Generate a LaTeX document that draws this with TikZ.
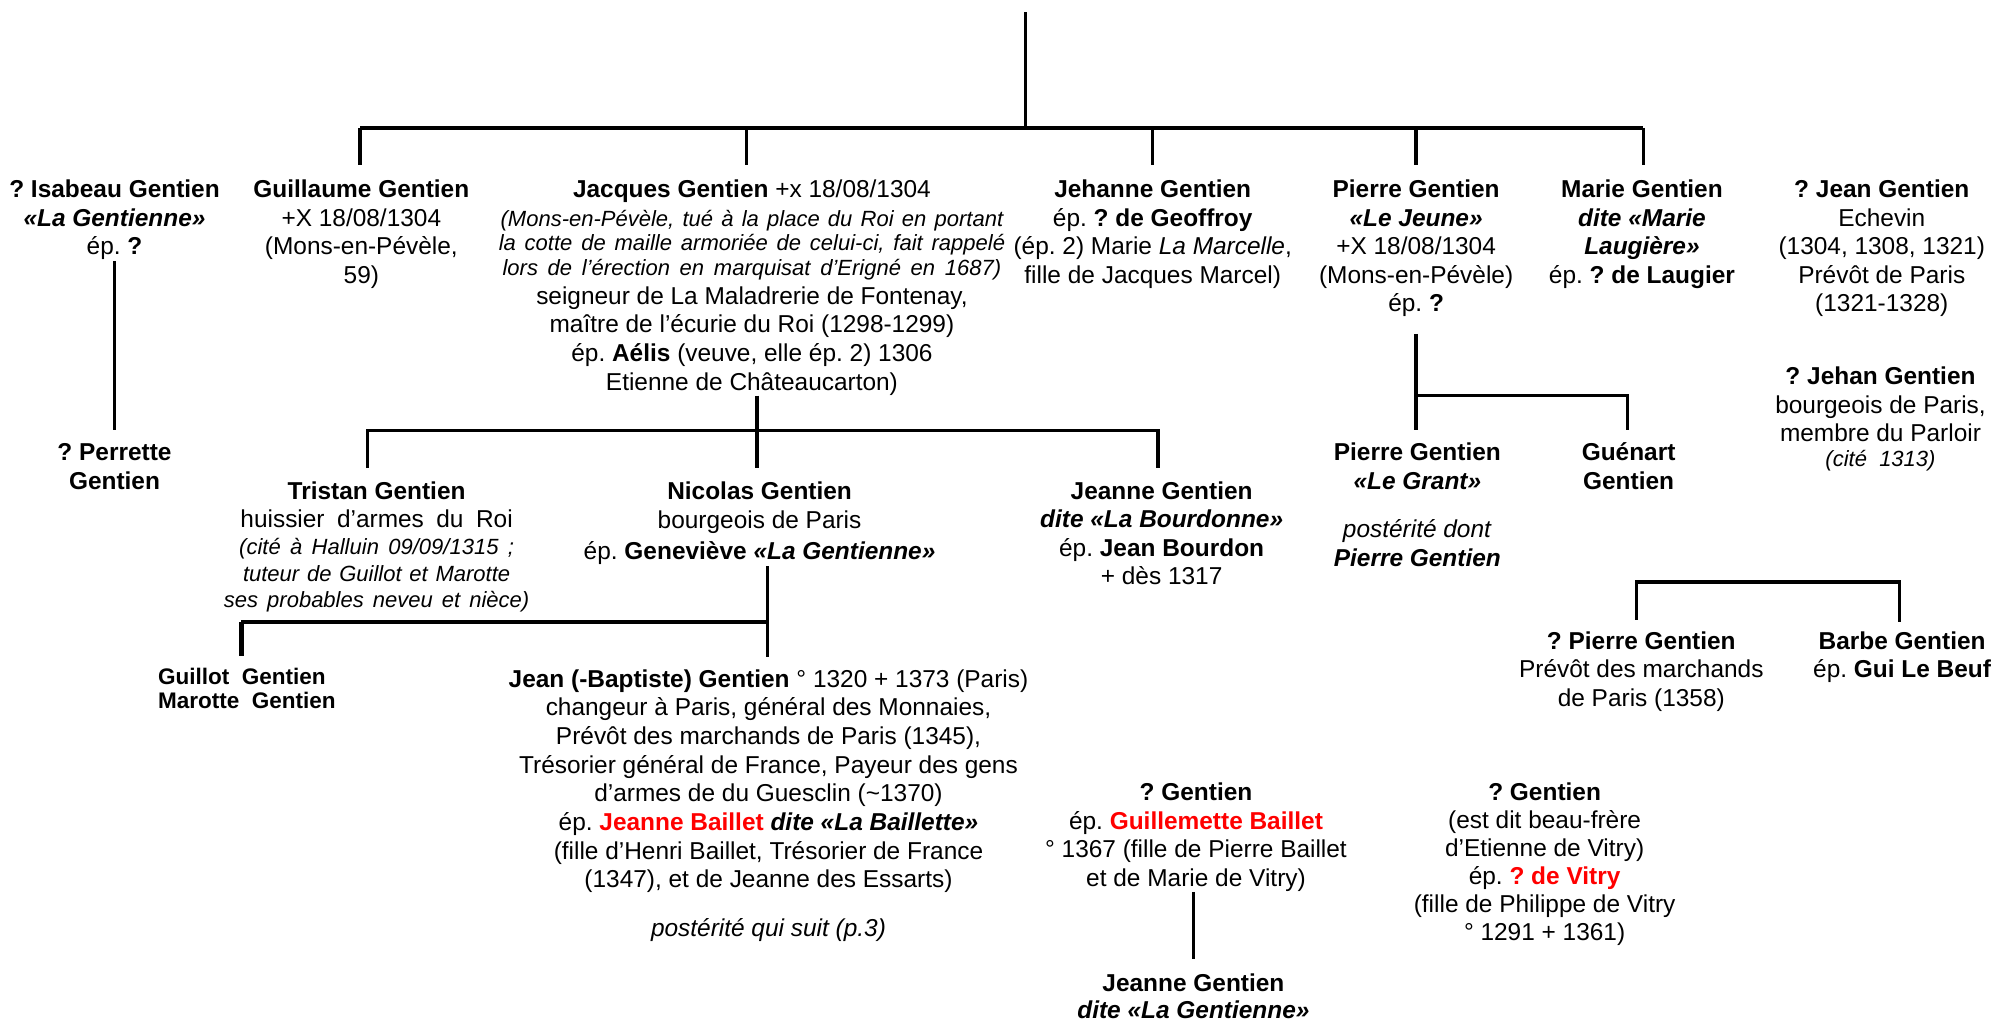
\documentclass[tikz,border=0pt]{standalone}
\usepackage{fontspec}
\setmainfont{Liberation Sans}
\definecolor{bred}{RGB}{255,0,0}
\newcommand\fsz{\fontsize{19.2}{22.5}\selectfont}
\newcommand\smit{\fontsize{17.3}{19.5}\selectfont\itshape}
\newcommand\gsz{\fontsize{17.7}{18.5}\selectfont}
\newcommand\tstrut{\rule{0pt}{16pt}}
\newcommand\bi[1]{\textbf{\textit{#1}}}
\newcommand\redb[1]{\textcolor{bred}{\textbf{#1}}}
\begin{document}
\frenchspacing
\begin{tikzpicture}[x=1pt,y=-1pt,
  person/.style={anchor=north,inner sep=0pt,align=center,font=\fsz},
  ln/.style={line width=2.7pt},
  lnthick/.style={line width=3.9pt}]
\fill[white] (0,0) rectangle (1568,802);
\path[use as bounding box] (0,0) rectangle (1568,802);

% ---------- generation 1 ----------
\node[person] (isa) at (90,139) {\tstrut\textbf{? Isabeau Gentien}\\\bi{«La Gentienne»}\\ép. \textbf{?}};
\node[person] (guill) at (284,139) {\tstrut\textbf{Guillaume Gentien}\\+X 18/08/1304\\(Mons-en-Pévèle,\\59)};
\node[person] (jacq) at (591,139) {\tstrut\textbf{Jacques Gentien} +x 18/08/1304\\
  {\smit\makebox[395pt][s]{(Mons-en-Pévèle, tué à la place du Roi en portant}}\\[-3pt]
  {\smit\makebox[398pt][s]{la cotte de maille armoriée de celui-ci, fait rappelé}}\\[-3pt]
  {\smit\makebox[392pt][s]{lors de l’érection en marquisat d’Erigné en 1687)}}\\
  seigneur de La Maladrerie de Fontenay,\\
  maître de l’écurie du Roi (1298-1299)\\
  ép. \textbf{Aélis} (veuve, elle ép. 2) 1306\\
  Etienne de Châteaucarton)};
\node[person] (jeh) at (906,139) {\tstrut\textbf{Jehanne Gentien}\\ép. \textbf{? de Geoffroy}\\(ép. 2) Marie \textit{La Marcelle},\\fille de Jacques Marcel)};
\node[person] (pjeune) at (1113,139) {\tstrut\textbf{Pierre Gentien}\\\bi{«Le Jeune»}\\+X 18/08/1304\\(Mons-en-Pévèle)\\ép. \textbf{?}};
\node[person] (marie) at (1290.5,139) {\tstrut\textbf{Marie Gentien}\\\bi{dite «Marie}\\\bi{Laugière»}\\ép. \textbf{? de Laugier}};
\node[person] (jean) at (1479,139) {\tstrut\textbf{? Jean Gentien}\\Echevin\\(1304, 1308, 1321)\\Prévôt de Paris\\(1321-1328)};
\node[person] (jehan) at (1478,286) {\tstrut\textbf{? Jehan Gentien}\\bourgeois de Paris,\\membre du Parloir\\[-3pt]{\smit (cité\ \ 1313)}};

% ---------- generation 2 ----------
\node[person] (perr) at (90,346) {\tstrut\textbf{? Perrette}\\\textbf{Gentien}};
\node[person] (trist) at (296,376) {\tstrut\textbf{Tristan Gentien}\\
  \makebox[214pt][s]{huissier d’armes du Roi}\\[-1pt]
  {\smit\makebox[216pt][s]{(cité à Halluin 09/09/1315 ;}}\\[-2pt]
  {\smit\makebox[210pt][s]{tuteur de Guillot et Marotte}}\\[-2pt]
  {\smit\makebox[240pt][s]{ses probables neveu et nièce)}}};
\node[person] (nico) at (597,376) {\tstrut\textbf{Nicolas Gentien}\\[1pt]bourgeois de Paris\\[1.5pt]ép. \textbf{Geneviève \textit{«La Gentienne»}}};
\node[person] (jbour) at (913,376) {\tstrut\textbf{Jeanne Gentien}\\\bi{dite «La Bourdonne»}\\ép. \textbf{Jean Bourdon}\\+ dès 1317};
\node[person] (pgrant) at (1114,346) {\tstrut\textbf{Pierre Gentien}\\\bi{«Le Grant»}\\[15.5pt]\textit{postérité dont}\\\bi{Pierre Gentien}};
\node[person] (guen) at (1280,346) {\tstrut\textbf{Guénart}\\\textbf{Gentien}};

% ---------- generation 3 ----------
\node[anchor=north west,inner sep=0pt,align=left,font=\gsz] (guil) at (124,522) {\tstrut\textbf{Guillot\ \ Gentien}\\\textbf{Marotte\ \ Gentien}};
\node[person] (jb) at (604,524) {\tstrut\textbf{Jean (-Baptiste) Gentien} ° 1320 + 1373 (Paris)\\
  changeur à Paris, général des Monnaies,\\
  Prévôt des marchands de Paris (1345),\\
  Trésorier général de France, Payeur des gens\\
  d’armes de du Guesclin (\textasciitilde1370)\\
  ép. \redb{Jeanne Baillet} \bi{dite «La Baillette»}\\
  (fille d’Henri Baillet, Trésorier de France\\
  (1347), et de Jeanne des Essarts)\\[16pt]
  \textit{postérité qui suit (p.3)}};
\node[person] (ppre) at (1290,494) {\tstrut\textbf{? Pierre Gentien}\\Prévôt des marchands\\de Paris (1358)};
\node[person] (barbe) at (1495,494) {\tstrut\textbf{Barbe Gentien}\\ép. \textbf{Gui Le Beuf}};
\node[person] (gmid) at (940,613) {\tstrut\textbf{? Gentien}\\ép. \redb{Guillemette Baillet}\\° 1367 (fille de Pierre Baillet\\et de Marie de Vitry)};
\node[person] (jgen) at (938,763) {\tstrut\textbf{Jeanne Gentien}\\[-1.5pt]\bi{dite «La Gentienne»}};
\node[person] (gvit) at (1214,613) {\tstrut\textbf{? Gentien}\\[-0.5pt](est dit beau-frère\\[-0.5pt]d’Etienne de Vitry)\\[-0.5pt]ép. \redb{? de Vitry}\\[-0.5pt](fille de Philippe de Vitry\\[-0.5pt]° 1291 + 1361)};

% ---------- connectors ----------
\coordinate (root) at (806,9.5);
\coordinate (b1) at (806,100.5);
\coordinate (b1L) at (283,100.5);
\coordinate (b1J) at (586.5,100.5);
\coordinate (b1R) at (1291.5,100.5);
\draw[ln] (root) -- (b1);
\draw[ln] (b1L) -- (b1R);
\draw[ln,shorten >=9pt] (b1L) -- (b1L |- guill.north);
\draw[ln,shorten >=9pt] (b1J) -- (b1J |- jacq.north);
\draw[ln,shorten >=9pt] (jeh.north |- b1) -- (jeh.north);
\draw[ln,shorten >=9pt] (pjeune.north |- b1) -- (pjeune.north);
\draw[ln,shorten >=9pt] (b1R) -- (b1R |- marie.north);

\draw[ln,shorten <=1pt,shorten >=8pt] (isa.south) -- (perr.north);

\coordinate (b2) at (595,338.5);
\coordinate (b2L) at (289,338.5);
\coordinate (b2R) at (910,338.5);
\draw[ln,shorten >=8pt] (jacq.south -| b2) -- (b2 |- nico.north);
\draw[ln,shorten <=8pt,shorten >=8pt] (b2L |- trist.north) -- (b2L) -- (b2R) -- (b2R |- jbour.north);

\coordinate (b3) at (603,489);
\coordinate (b3L) at (189.5,489);
\draw[ln,shorten <=1pt,shorten >=8pt] (nico.south -| b3) -- (b3 |- jb.north);
\draw[ln] (b3) -- (b3L);
\draw[lnthick,shorten >=6.5pt] (b3L) -- (b3L |- guil.north);

\coordinate (b4) at (1113,311);
\coordinate (b4R) at (1279,311);
\draw[ln,shorten <=13pt,shorten >=8pt] (pjeune.south) -- (b4 |- pgrant.north);
\draw[ln,shorten >=8pt] (b4) -- (b4R) -- (b4R |- guen.north);

\coordinate (b5L) at (1286,457.5);
\coordinate (b5R) at (1493,457.5);
\draw[ln,shorten <=7pt,shorten >=5pt] (b5L |- ppre.north) -- (b5L) -- (b5R) -- (b5R |- barbe.north);

\draw[ln,shorten >=9.5pt] (gmid.south -| jgen.north) -- (jgen.north);
\end{tikzpicture}
\end{document}
